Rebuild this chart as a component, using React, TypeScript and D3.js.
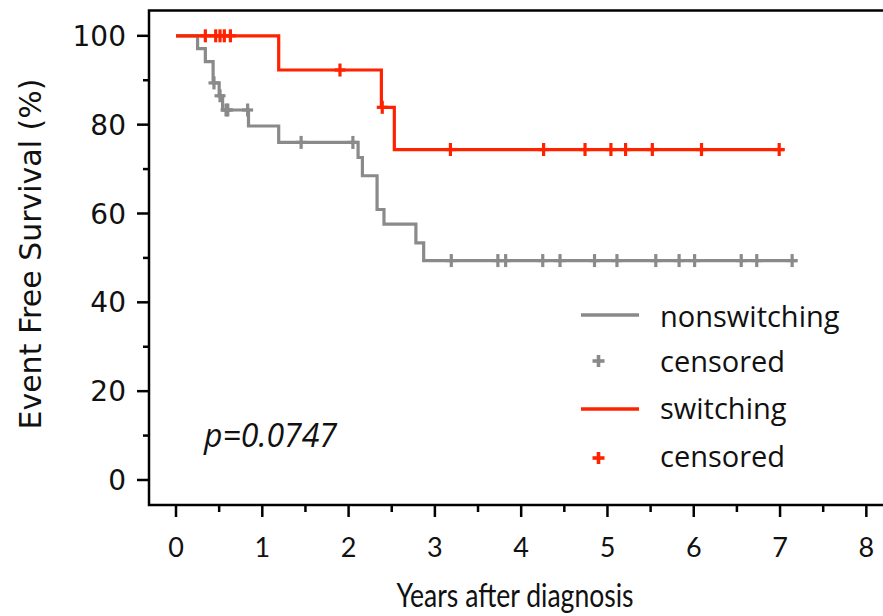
import React, { useEffect, useRef } from 'react';
import * as d3 from 'd3';

// Kaplan-Meier step curves (years, % event free)
const grayStepTimes = [0, 0.25, 0.34, 0.43, 0.5, 0.54, 0.84, 1.19, 2.11, 2.16, 2.33, 2.41, 2.78, 2.87, 7.2];
const grayStepSurv = [100, 97.1, 94.2, 89.4, 86.5, 83.3, 79.7, 76.0, 72.6, 68.5, 60.9, 57.6, 53.4, 49.4, 49.4];
const grayCensored = [0.44, 0.51, 0.58, 0.6, 0.83, 1.45, 2.05, 3.19, 3.73, 3.82, 4.25, 4.45, 4.85, 5.11, 5.56, 5.83, 6.01, 6.55, 6.73, 7.14];

const redStepTimes = [0, 1.19, 2.38, 2.53, 7.05];
const redStepSurv = [100, 92.3, 83.9, 74.4, 74.4];
const redCensored = [0.34, 0.46, 0.51, 0.56, 0.63, 1.9, 2.39, 3.18, 4.26, 4.74, 5.04, 5.21, 5.52, 6.09, 6.99];

const xTicks = [0, 1, 2, 3, 4, 5, 6, 7, 8];
const yTicks = [0, 20, 40, 60, 80, 100];

const legendLabels = ['nonswitching', 'censored', 'switching', 'censored'];
const pValue = 'p=0.0747';

const GRAY = '#8a8a8a';
const RED = '#ff2200';

const App = () => {
    const svgRef = useRef(null);

    useEffect(() => {
        const svg = d3.select(svgRef.current);
        svg.selectAll('*').remove();

        const x = d3.scaleLinear().domain([-0.313, 8.2]).range([149, 883.6]);
        const y = d3.scaleLinear().domain([-5.63, 105.7]).range([505, 10.5]);

        // frame: left, bottom, top (right edge is cut off)
        svg.append('path')
            .attr('d', `M883,${y(105.7)}H${x(-0.313)}V${y(-5.63)}H883`)
            .attr('fill', 'none')
            .attr('stroke', '#000')
            .attr('stroke-width', 2.5);

        // x ticks
        const xAxis = svg.append('g').attr('stroke', '#000').attr('stroke-width', 2.5);
        d3.range(0, 8.01, 0.5).forEach(t => {
            const major = Number.isInteger(t);
            xAxis.append('line')
                .attr('x1', x(t)).attr('x2', x(t))
                .attr('y1', 505).attr('y2', 505 + (major ? 12 : 7));
        });
        svg.append('g').selectAll('text')
            .data(xTicks)
            .join('text')
            .attr('x', d => x(d))
            .attr('y', 557)
            .attr('text-anchor', 'middle')
            .attr('font-family', 'Lato, "Open Sans", sans-serif')
            .attr('font-size', 27)
            .attr('fill', '#111')
            .text(d => d);

        // y ticks
        const yAxis = svg.append('g').attr('stroke', '#000').attr('stroke-width', 2.5);
        d3.range(0, 100.1, 10).forEach(v => {
            const major = v % 20 === 0;
            yAxis.append('line')
                .attr('y1', y(v)).attr('y2', y(v))
                .attr('x1', 149).attr('x2', 149 - (major ? 12 : 6));
        });
        svg.append('g').selectAll('text')
            .data(yTicks)
            .join('text')
            .attr('x', 126)
            .attr('y', d => y(d))
            .attr('dy', '0.36em')
            .attr('text-anchor', 'end')
            .attr('font-family', '"DejaVu Sans", sans-serif')
            .attr('font-size', 28)
            .attr('fill', '#111')
            .text(d => d);

        // axis titles
        svg.append('text')
            .attr('transform', `translate(41,${254}) rotate(-90)`)
            .attr('text-anchor', 'middle')
            .attr('font-family', '"DejaVu Sans", sans-serif')
            .attr('font-size', 30)
            .attr('fill', '#111')
            .text('Event Free Survival (%)');
        svg.append('text')
            .attr('transform', 'translate(515,607) scale(0.83,1)')
            .attr('text-anchor', 'middle')
            .attr('font-family', 'Lato, "Open Sans", sans-serif')
            .attr('font-size', 32)
            .attr('fill', '#111')
            .text('Years after diagnosis');

        const line = d3.line()
            .x(d => x(d[0]))
            .y(d => y(d[1]))
            .curve(d3.curveStepAfter);

        const survAt = (times, surv, t) => surv[Math.max(0, d3.bisectRight(times, t) - 1)];

        const drawCurve = (times, surv, cens, color) => {
            svg.append('path')
                .datum(times.map((t, i) => [t, surv[i]]))
                .attr('fill', 'none')
                .attr('stroke', color)
                .attr('stroke-width', 3.2)
                .attr('d', line);
            const g = svg.append('g').attr('stroke', color).attr('stroke-width', 3.2);
            cens.forEach(t => {
                const cx = x(t);
                const cy = y(survAt(times, surv, t));
                g.append('line').attr('x1', cx).attr('x2', cx).attr('y1', cy - 6.5).attr('y2', cy + 6.5);
                g.append('line').attr('x1', cx - 5.5).attr('x2', cx + 5.5).attr('y1', cy).attr('y2', cy);
            });
        };

        drawCurve(grayStepTimes, grayStepSurv, grayCensored, GRAY);
        drawCurve(redStepTimes, redStepSurv, redCensored, RED);

        // legend
        const rows = [
            { type: 'line', color: GRAY, y: 315, base: 327 },
            { type: 'plus', color: GRAY, y: 361, base: 372 },
            { type: 'line', color: RED, y: 409, base: 419 },
            { type: 'plus', color: RED, y: 458, base: 467 },
        ];
        const legend = svg.append('g');
        rows.forEach((r, i) => {
            if (r.type === 'line') {
                legend.append('line')
                    .attr('x1', 581).attr('x2', 639)
                    .attr('y1', r.y).attr('y2', r.y)
                    .attr('stroke', r.color).attr('stroke-width', 3.3);
            } else {
                legend.append('line').attr('x1', 598.5).attr('x2', 598.5).attr('y1', r.y - 6).attr('y2', r.y + 6)
                    .attr('stroke', r.color).attr('stroke-width', 3.6);
                legend.append('line').attr('x1', 592.5).attr('x2', 604.5).attr('y1', r.y).attr('y2', r.y)
                    .attr('stroke', r.color).attr('stroke-width', 3.6);
            }
            legend.append('text')
                .attr('x', 660)
                .attr('y', r.base)
                .attr('font-family', '"Open Sans", sans-serif')
                .attr('font-size', 29)
                .attr('fill', '#111')
                .text(legendLabels[i]);
        });

        svg.append('text')
            .attr('x', 204)
            .attr('y', 447)
            .attr('font-family', '"Open Sans", sans-serif')
            .attr('font-style', 'italic')
            .attr('font-size', 32)
            .attr('fill', '#111')
            .text(pValue);
    }, []);

    return (
        <svg ref={svgRef} width="883" height="616"
            style={{ position: 'absolute', left: 0, top: 0, background: '#fff' }}></svg>
    );
};

export default App;
